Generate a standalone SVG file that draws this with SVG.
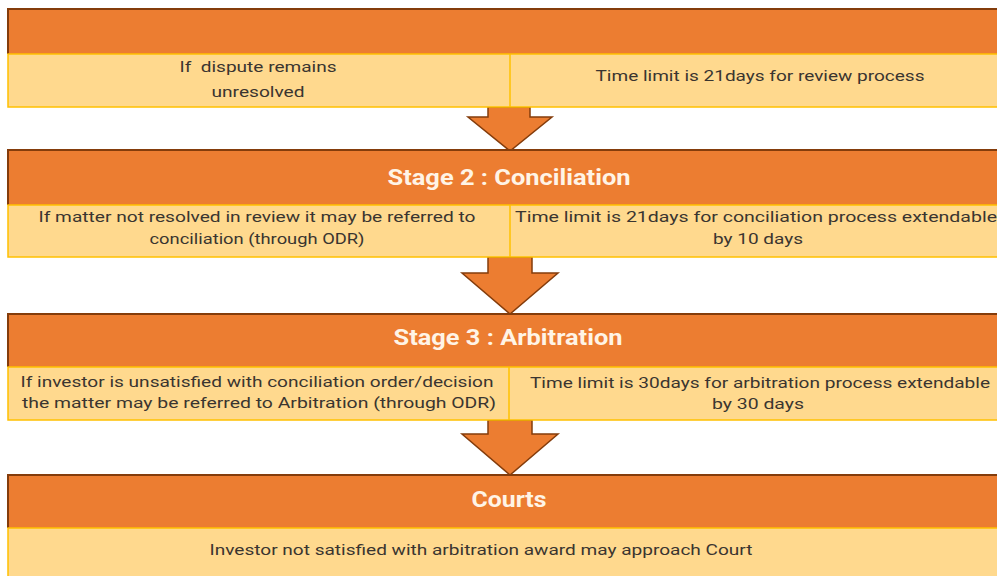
<svg xmlns="http://www.w3.org/2000/svg" width="997" height="576" viewBox="0 0 997 576">
<style>
.hdr{fill:#EC7D31;}
.hline{stroke:#843C0B;stroke-width:2;fill:none;}
.band{fill:#FFD98E;stroke:#FFC000;stroke-width:1.5;}
.div{stroke:#FFC000;stroke-width:1.5;}
.arrow{fill:#EC7D31;stroke:#843C0B;stroke-width:1.5;stroke-linejoin:miter;}
.title{font-family:Roboto,"Liberation Sans",sans-serif;font-weight:bold;font-size:22px;fill:#FFF4E6;text-anchor:middle;}
.body{font-family:Roboto,"Liberation Sans",sans-serif;font-size:15px;fill:#3a3530;text-anchor:middle;white-space:pre;}
</style>
<rect width="997" height="576" fill="#ffffff"/>

<g id="connectors">
<polygon class="arrow" points="488,107 530,107 530,117 552,117 510,151 468,117 488,117"/>
<polygon class="arrow" points="488,257 532,257 532,273 558,273 510,314 462,273 488,273"/>
<polygon class="arrow" points="488,420 532,420 532,434 558,434 510,475 462,434 488,434"/>
</g>

<g id="stage1">
<rect class="hdr" x="8" y="9" width="1000" height="45"/>
<path class="hline" d="M8,54 L8,9 L1000,9"/>
<rect class="band" x="8" y="54" width="1000" height="53"/>
<line class="div" x1="510" y1="54" x2="510" y2="107"/>
<text class="body" x="258" y="72" textLength="157" lengthAdjust="spacingAndGlyphs">If  dispute remains</text>
<text class="body" x="258" y="97" textLength="93" lengthAdjust="spacingAndGlyphs">unresolved</text>
<text class="body" x="760" y="81" textLength="329" lengthAdjust="spacingAndGlyphs">Time limit is 21days for review process</text>
</g>

<g id="stage2">
<rect class="hdr" x="8" y="150" width="1000" height="55"/>
<path class="hline" d="M8,205 L8,150 L1000,150"/>
<rect class="band" x="8" y="205" width="1000" height="52"/>
<line class="div" x1="510" y1="205" x2="510" y2="257"/>
<text class="title" x="509" y="185" textLength="243" lengthAdjust="spacingAndGlyphs">Stage 2 : Conciliation</text>
<text class="body" x="257" y="222" textLength="437" lengthAdjust="spacingAndGlyphs">If matter not resolved in review it may be referred to</text>
<text class="body" x="257" y="244" textLength="215" lengthAdjust="spacingAndGlyphs">conciliation (through ODR)</text>
<text class="body" x="756" y="222" textLength="482" lengthAdjust="spacingAndGlyphs">Time limit is 21days for conciliation process extendable</text>
<text class="body" x="758" y="244" textLength="90" lengthAdjust="spacingAndGlyphs">by 10 days</text>
</g>

<g id="stage3">
<rect class="hdr" x="8" y="314" width="1000" height="53"/>
<path class="hline" d="M8,367 L8,314 L1000,314"/>
<rect class="band" x="8" y="367" width="1000" height="53"/>
<line class="div" x1="509" y1="367" x2="509" y2="420"/>
<text class="title" x="508" y="345" textLength="229" lengthAdjust="spacingAndGlyphs">Stage 3 : Arbitration</text>
<text class="body" x="257" y="387" textLength="473" lengthAdjust="spacingAndGlyphs">If investor is unsatisfied with conciliation order/decision</text>
<text class="body" x="259" y="408" textLength="474" lengthAdjust="spacingAndGlyphs">the matter may be referred to Arbitration (through ODR)</text>
<text class="body" x="760" y="388" textLength="460" lengthAdjust="spacingAndGlyphs">Time limit is 30days for arbitration process extendable</text>
<text class="body" x="758" y="409" textLength="92" lengthAdjust="spacingAndGlyphs">by 30 days</text>
</g>

<g id="courts">
<rect class="hdr" x="8" y="475" width="1000" height="53"/>
<path class="hline" d="M8,528 L8,475 L1000,475"/>
<rect class="band" x="8" y="528" width="1000" height="60"/>
<text class="title" x="509" y="507" textLength="75" lengthAdjust="spacingAndGlyphs">Courts</text>
<text class="body" x="481" y="555" textLength="543" lengthAdjust="spacingAndGlyphs">Investor not satisfied with arbitration award may approach Court</text>
</g>
</svg>
